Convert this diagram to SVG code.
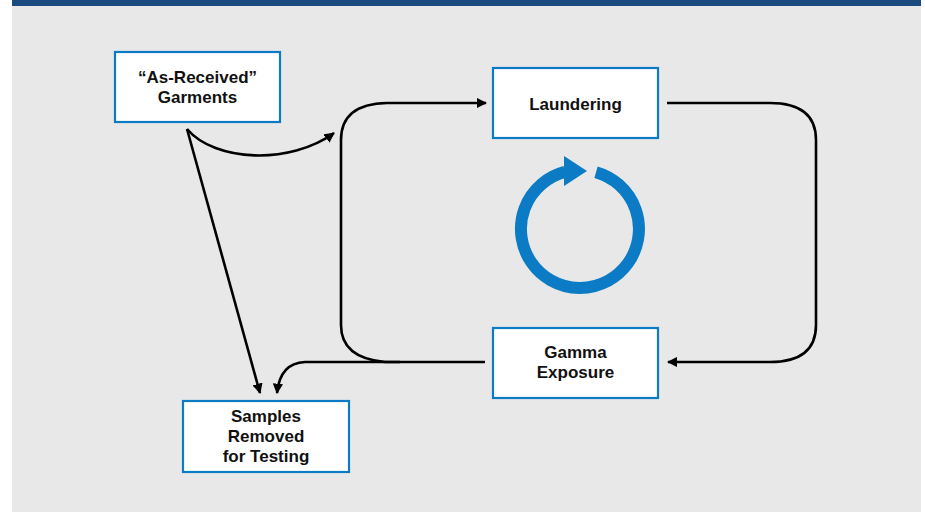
<svg xmlns="http://www.w3.org/2000/svg" width="925" height="512" viewBox="0 0 925 512">
<style>
.box{fill:#ffffff;stroke:#0a7bc4;stroke-width:2.2}
.lbl{font-family:"Liberation Sans",Arial,sans-serif;font-weight:bold;font-size:17px;fill:#111;text-anchor:middle}
.ln{fill:none;stroke:#000;stroke-width:2.6}
</style>
<defs>
<marker id="ah" viewBox="0 0 10 10" refX="9" refY="5" markerWidth="4" markerHeight="4" orient="auto" markerUnits="strokeWidth">
<path d="M0,0 L10,5 L0,10 z" fill="#000"/>
</marker>
</defs>
<rect x="0" y="0" width="925" height="512" fill="#ffffff"/>
<rect x="12" y="0" width="909" height="512" fill="#e8e8e8"/>
<rect x="12" y="0" width="909" height="6" fill="#1a4a80"/>

<g id="connectors">
<path class="ln" marker-end="url(#ah)" d="M667,103 L770,103 Q816,103 816,140 L816,325 Q816,362 770,362 L668,362"/>
<path class="ln" marker-end="url(#ah)" d="M485,362 L385,362 Q341,358 341,325 L341,140 Q341,104 387,103 L486,103"/>
<path class="ln" marker-end="url(#ah)" d="M400,362 L305,362 Q280,363 277,393"/>
<path class="ln" marker-end="url(#ah)" d="M187,129 L260,393"/>
<path class="ln" marker-end="url(#ah)" d="M187,129 C215,162 290,165 334,133"/>
</g>

<g id="cycle">
<path d="M596,172.2 A59,59 0 1 1 565,171.9" fill="none" stroke="#0a7bc4" stroke-width="12"/>
<polygon points="564,156 587,171 564,186" fill="#0a7bc4"/>
</g>

<g id="node-received">
<rect class="box" x="115" y="52" width="165" height="70"/>
<text class="lbl" x="197.5" y="83">“As-Received”</text>
<text class="lbl" x="197.5" y="103">Garments</text>
</g>
<g id="node-laundering">
<rect class="box" x="493" y="68" width="165" height="70"/>
<text class="lbl" x="575.5" y="110">Laundering</text>
</g>
<g id="node-gamma">
<rect class="box" x="493" y="328" width="165" height="70"/>
<text class="lbl" x="575.5" y="358">Gamma</text>
<text class="lbl" x="575.5" y="378">Exposure</text>
</g>
<g id="node-samples">
<rect class="box" x="183" y="401" width="166" height="71"/>
<text class="lbl" x="266" y="422">Samples</text>
<text class="lbl" x="266" y="442">Removed</text>
<text class="lbl" x="266" y="462">for Testing</text>
</g>
</svg>
